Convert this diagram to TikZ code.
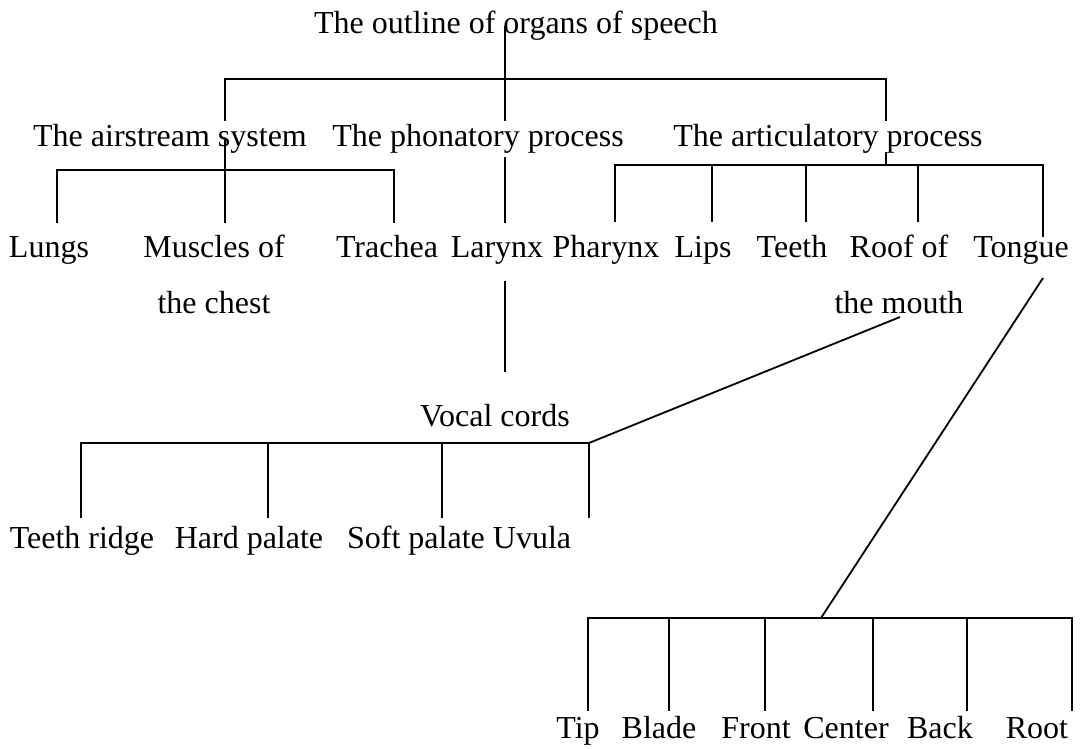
\documentclass[tikz,border=0pt]{standalone}
\usepackage{fontspec}
\setmainfont{Liberation Serif}
\usetikzlibrary{positioning}

\begin{document}
\begin{tikzpicture}[
          x=0.5pt, y=-0.5pt,
          lbl/.style={anchor=base, inner sep=0pt, align=center, font=\fontsize{16}{28}\selectfont},
          ln/.style={line width=0.9pt}
        ]
        \useasboundingbox (0,0) rectangle (1082,749);
        % labels
        \node[lbl] (outline) at (516,34) {The outline of organs of speech};
        \node[lbl] (air) at (170,147) {The airstream system};
        \node[lbl] (phon) at (478,147) {The phonatory process};
        \node[lbl] (artic) at (828,147) {The articulatory process};
        \node[lbl] (lungs) at (49,257) {Lungs};
        \node[lbl] (muscles) at (214,313) {Muscles of\\the chest};
        \node[lbl] (trachea) at (387,257) {Trachea};
        \node[lbl] (larynx) at (497,257) {Larynx};
        \node[lbl] (pharynx) at (606,257) {Pharynx};
        \node[lbl] (lips) at (703,257) {Lips};
        \node[lbl] (teeth) at (792,257) {Teeth};
        \node[lbl] (roof) at (899,313) {Roof of\\the mouth};
        \node[lbl] (tongue) at (1021,257) {Tongue};
        \node[lbl] (vocal) at (495,426) {Vocal cords};
        \node[lbl] (ridge) at (82,548) {Teeth ridge};
        \node[lbl] (hard) at (249,548) {Hard palate};
        \node[lbl] (soft) at (416,548) {Soft palate};
        \node[lbl] (uvula) at (532,548) {Uvula};
        \node[lbl] (tip) at (578,738) {Tip};
        \node[lbl] (blade) at (659,738) {Blade};
        \node[lbl] (front) at (756,738) {Front};
        \node[lbl] (center) at (846,738) {Center};
        \node[lbl] (back) at (940,738) {Back};
        \node[lbl] (root) at (1037,738) {Root};
        % line ends
        \coordinate (outline-d) at (505,26);
        \coordinate (air-u) at (225,121);
        \coordinate (phon-u) at (505,121);
        \coordinate (artic-u) at (886,121);
        \coordinate (air-d) at (225,140);
        \coordinate (phon-d) at (505,157);
        \coordinate (artic-d) at (886,152);
        \coordinate (larynx-d) at (505,281);
        \coordinate (vocal-u) at (505,372);
        \coordinate (roof-d) at (900,317);
        \coordinate (tongue-d) at (1043,278);
        \coordinate (palate-j) at (589,443);
        \coordinate (tongue-j) at (821,618);
        % first level
        \draw[ln] (outline-d) -- (phon-u);
        \draw[ln] (air-u) |- (505,79) -| (artic-u);
        % airstream
        \draw[ln] (air-d) -- (225,223);
        \draw[ln] (57,223) |- (225,170) -| (394,223);
        % phonatory
        \draw[ln] (phon-d) -- (505,223);
        \draw[ln] (larynx-d) -- (vocal-u);
        % articulatory
        \draw[ln] (artic-d) -- (886,165);
        \draw[ln] (615,222) |- (886,165) -| (1043,237);
        \foreach \x in {712,806,918}
          \draw[ln] (\x,165) -- (\x,222);
        % roof of the mouth
        \draw[ln] (roof-d) -- (palate-j);
        \draw[ln] (81,518) |- (palate-j) -- (589,518);
        \foreach \x in {268,442}
          \draw[ln] (\x,443) -- (\x,518);
        % tongue
        \draw[ln] (tongue-d) -- (tongue-j);
        \draw[ln] (588,711) |- (tongue-j) -| (1072,711);
        \foreach \x in {669,765,873,967}
          \draw[ln] (\x,618) -- (\x,711);
      \end{tikzpicture}
\end{document}
